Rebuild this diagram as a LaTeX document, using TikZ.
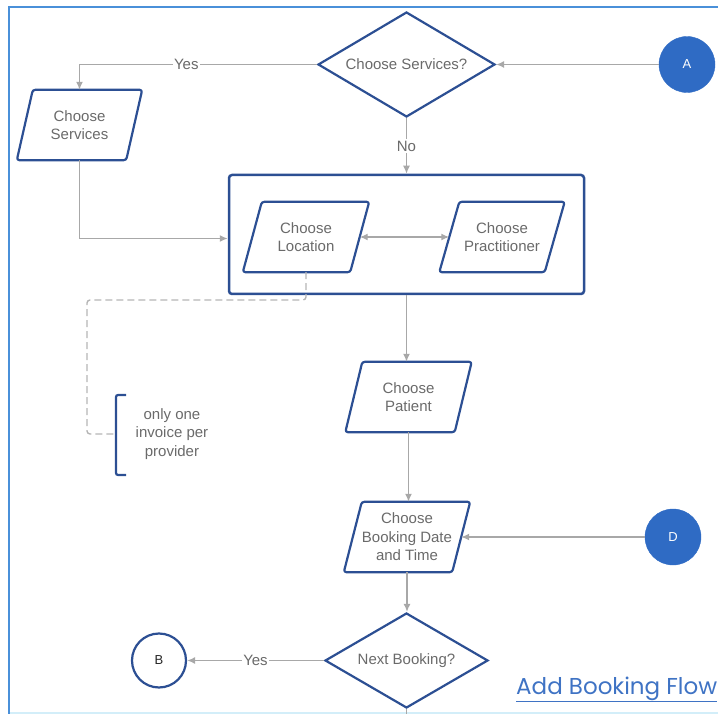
\documentclass[tikz,border=0pt]{standalone}
\usepackage{fontspec}
\setmainfont{Liberation Sans}
\newfontfamily\titlefont{Poppins}
\usetikzlibrary{arrows.meta,shapes.geometric,calc}
\definecolor{shapeblue}{HTML}{2C4F93}
\definecolor{linegray}{HTML}{A8A8A8}
\definecolor{textgray}{HTML}{6A6A6A}
\definecolor{circblue}{HTML}{2F6BC4}
\definecolor{framecol}{HTML}{4A90D9}
\definecolor{framelight}{HTML}{D3EEF9}
\definecolor{linkblue}{HTML}{3F73C4}
\newcommand\parashape[6]{%
  \node[parabox, minimum width=#4] (#1) at (#2,#3) {#6};
  \draw[paraline] ($(#1.north west)+(#5/2,0)$) -- ($(#1.north east)+(#5/2,0)$)
    -- ($(#1.south east)-(#5/2,0)$) -- ($(#1.south west)-(#5/2,0)$) -- cycle;
}
\begin{document}
\begin{tikzpicture}[x=1pt,y=-1pt,
  txt/.style={font=\fontsize{15}{18.5}\selectfont, text=textgray, align=center},
  parabox/.style={txt, minimum height=70, inner sep=0},
  paraline/.style={draw=shapeblue, line width=2.2pt, rounded corners=2.5pt, line join=round},
  decision/.style={txt, diamond, draw=shapeblue, line width=2.2pt, inner sep=0, aspect=1.7},
  tip/.tip={Latex[length=8pt,width=7pt]},
  conn/.style={draw=linegray, line width=1.4pt, -tip},
  plain/.style={draw=linegray, line width=1.4pt},
  dashline/.style={draw=linegray!85, line width=1.4pt, dash pattern=on 7pt off 4pt, rounded corners=3pt},
  lbl/.style={txt, fill=white, inner sep=1.5pt},
  solidcirc/.style={circle, fill=circblue, draw=circblue, text=white, minimum size=56, inner sep=0, font=\fontsize{13}{15}\selectfont},
  opencirc/.style={circle, draw=shapeblue, line width=2.2pt, fill=white, text=black!85, minimum size=54, inner sep=0, font=\fontsize{13}{15}\selectfont},
  groupbox/.style={draw=shapeblue, line width=2.5pt, rounded corners=3pt, minimum width=355, minimum height=119, inner sep=0}
]
\useasboundingbox (0,0) rectangle (718,714);
% frame
\draw[framelight, line width=2pt] (9,713) -- (718,713);
\draw[framecol, line width=2pt] (9,714) -- (9,7) -- (718,7);

% nodes
\node[decision, minimum width=177, minimum height=105] (d1) at (406.5,64.5) {Choose Services?};
\node[solidcirc] (A) at (687,64.5) {A};
\parashape{cs}{79.5}{125}{109}{16}{Choose\\Services}
\node[groupbox] (cont) at (406.5,234.5) {};
\parashape{loc}{306}{237}{107}{19}{Choose\\Location}
\parashape{prac}{502}{237}{105}{20}{Choose\\Practitioner}
\parashape{pat}{408.5}{397}{109}{17}{Choose\\Patient}
\parashape{book}{407}{537}{108}{18}{Choose\\Booking Date\\and Time}
\node[solidcirc] (D) at (673,537) {D};
\node[decision, minimum width=163, minimum height=95] (d2) at (406.5,660.5) {Next Booking?};
\node[opencirc] (B) at (159,660.5) {B};
\node[txt] (note) at (172,434) {only one\\invoice per\\provider};
\coordinate (brk) at (114,434);
\coordinate (dcorner) at (87,300);
\coordinate (bottomend) at (406.5,716);
\node[anchor=base west, text=linkblue, inner sep=0, font=\titlefont\fontsize{23}{27}\selectfont] (title) at (516,694) {\underline{Add Booking Flow}};

% bracket
\draw[shapeblue, line width=2.2pt, rounded corners=2pt] (126,395) -- (116,395) -- (116,475) -- (126,475);

% connectors
\draw[conn] (A) -- (d1.east);
\draw[conn] (d1.west) -- node[lbl, pos=0.55] {Yes} (d1.west -| cs.north) -- (cs.north);
\draw[conn] (d1.south) -- node[lbl] {No} (cont.north);
\draw[conn] (cs.south) |- ([yshift=-4pt]cont.west);
\draw[draw=linegray, line width=1.4pt, tip-tip] (loc.east) -- (prac.west);
\draw[dashline] (loc.south) |- (dcorner) |- (brk);
\draw[conn] (cont.south) -- (cont.south |- pat.north);
\draw[conn] (pat.south) -- (pat.south |- book.north);
\draw[conn] (D) -- (book.east);
\draw[conn] (book.south) -- (book.south |- d2.north);
\draw[conn] (d2.west) -- node[lbl] {Yes} (B);
\draw[plain] (d2.south) -- (bottomend);
\end{tikzpicture}
\end{document}
